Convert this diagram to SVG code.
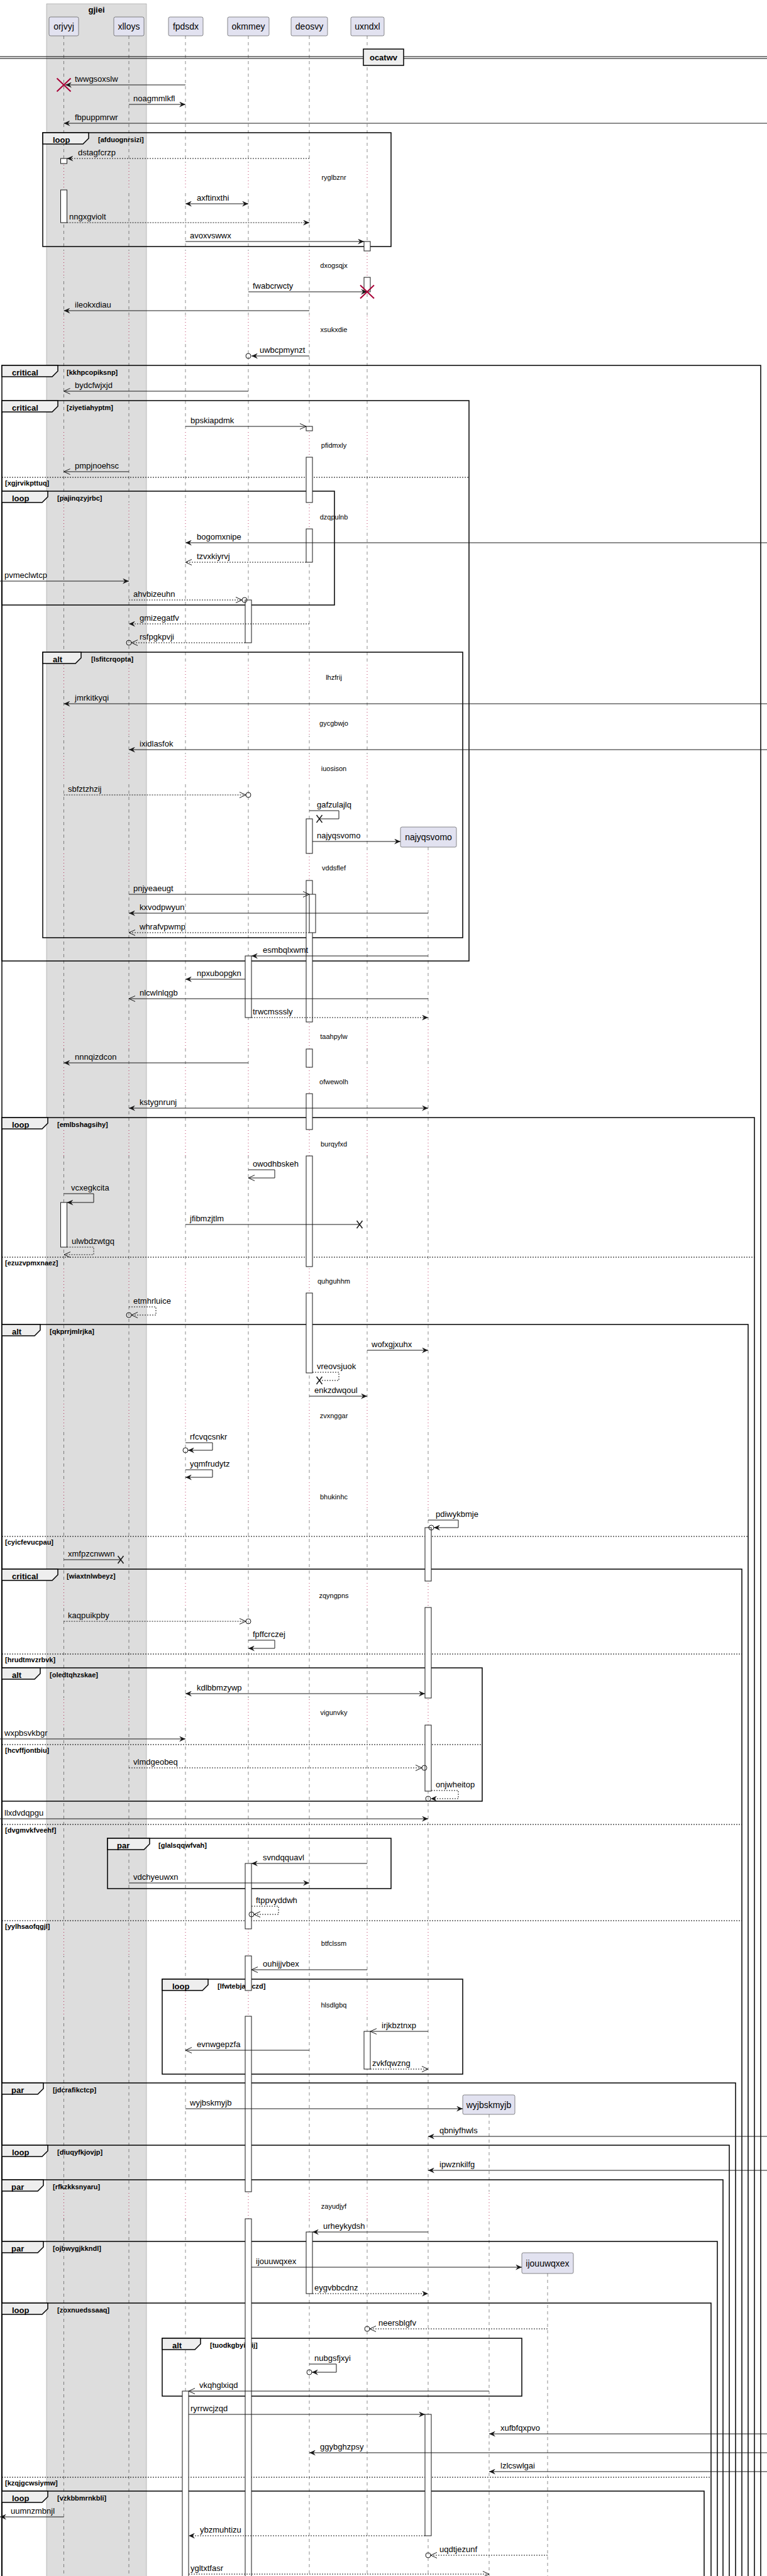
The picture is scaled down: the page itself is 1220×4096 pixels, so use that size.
<svg xmlns="http://www.w3.org/2000/svg" width="1220" height="4096" viewBox="0 0 1220 4096">
<style>
text{font-family:"Liberation Sans",Arial,sans-serif;fill:#000}
.t{font-size:13px}
.dt{font-size:11px;text-anchor:middle}
.pt{font-size:14px;text-anchor:middle}
.fl{font-weight:bold;font-size:13px}
.fc{font-weight:bold;font-size:11px}
.m{stroke:#181818;stroke-width:1;fill:none}
.md{stroke:#181818;stroke-width:1;fill:none;stroke-dasharray:2,2}
.fr{fill:none;stroke:#000;stroke-width:1.5}
.tab{fill:#EEEEEE;stroke:#000;stroke-width:1.5}
.el{stroke:#000;stroke-width:1;stroke-dasharray:2,2}
.act{fill:#fff;stroke:#181818;stroke-width:1}
.pb{fill:#E2E2F0;stroke:#181818;stroke-width:0.5}
.ll{stroke:#181818;stroke-width:0.5;stroke-dasharray:5,5}
.dl{stroke:#A80036;stroke-width:0.8;stroke-dasharray:1,4}
.cr{fill:none;stroke:#181818;stroke-width:1}
.lx{stroke:#181818;stroke-width:1.5}
.dx{stroke:#A80036;stroke-width:2}
</style>
<defs>
<marker id="f" viewBox="0 0 10 9" refX="10" refY="4.5" markerWidth="10" markerHeight="9" markerUnits="userSpaceOnUse" orient="auto-start-reverse"><path d="M0,0 L10,4.5 L0,9 L3.5,4.5 Z" fill="#181818"/></marker>
<marker id="o" viewBox="-1 -1 12 11" refX="10" refY="4.5" markerWidth="12" markerHeight="11" markerUnits="userSpaceOnUse" orient="auto-start-reverse"><path d="M0,0 L10,4.5 L0,9" fill="none" stroke="#181818" stroke-width="1"/></marker>
<mask id="nd" maskUnits="userSpaceOnUse" x="0" y="0" width="1220" height="4096">
<rect x="0" y="0" width="1220" height="4096" fill="#fff"/>
<g fill="#000">
<rect x="0" y="259" width="1220" height="43"/><rect x="0" y="399" width="1220" height="42"/><rect x="0" y="501" width="1220" height="43"/><rect x="0" y="685" width="1220" height="42"/><rect x="0" y="799" width="1220" height="42"/><rect x="0" y="1054" width="1220" height="43"/><rect x="0" y="1127" width="1220" height="43"/><rect x="0" y="1199" width="1220" height="43"/><rect x="0" y="1357" width="1220" height="43"/><rect x="0" y="1625" width="1220" height="43"/><rect x="0" y="1697" width="1220" height="42"/><rect x="0" y="1796" width="1220" height="42"/><rect x="0" y="2014" width="1220" height="42"/><rect x="0" y="2228" width="1220" height="43"/><rect x="0" y="2357" width="1220" height="43"/><rect x="0" y="2514" width="1220" height="42"/><rect x="0" y="2700" width="1220" height="43"/><rect x="0" y="3067" width="1220" height="43"/><rect x="0" y="3165" width="1220" height="41"/><rect x="0" y="3485" width="1220" height="43"/>
</g>
</mask>
<clipPath id="dd">
<rect x="0" y="259" width="1220" height="43"/><rect x="0" y="399" width="1220" height="42"/><rect x="0" y="501" width="1220" height="43"/><rect x="0" y="685" width="1220" height="42"/><rect x="0" y="799" width="1220" height="42"/><rect x="0" y="1054" width="1220" height="43"/><rect x="0" y="1127" width="1220" height="43"/><rect x="0" y="1199" width="1220" height="43"/><rect x="0" y="1357" width="1220" height="43"/><rect x="0" y="1625" width="1220" height="43"/><rect x="0" y="1697" width="1220" height="42"/><rect x="0" y="1796" width="1220" height="42"/><rect x="0" y="2014" width="1220" height="42"/><rect x="0" y="2228" width="1220" height="43"/><rect x="0" y="2357" width="1220" height="43"/><rect x="0" y="2514" width="1220" height="42"/><rect x="0" y="2700" width="1220" height="43"/><rect x="0" y="3067" width="1220" height="43"/><rect x="0" y="3165" width="1220" height="41"/><rect x="0" y="3485" width="1220" height="43"/>
</clipPath>
</defs>

<g id="box-gjiei">
<rect x="74" y="6" width="159" height="4100" fill="#DDDDDD" stroke="#888" stroke-width="0.5"/>
<text x="153.5" y="20" class="fl" text-anchor="middle">gjiei</text>
</g>

<g id="lifelines" class="ll" mask="url(#nd)">
<line x1="101.5" y1="57" x2="101.5" y2="4096"/><line x1="205" y1="57" x2="205" y2="4096"/><line x1="295" y1="57" x2="295" y2="4096"/><line x1="395" y1="57" x2="395" y2="4096"/><line x1="492" y1="57" x2="492" y2="4096"/><line x1="584" y1="57" x2="584" y2="4096"/><line x1="681" y1="1347" x2="681" y2="4096"/><line x1="778" y1="3362" x2="778" y2="4096"/><line x1="871" y1="3615" x2="871" y2="4096"/>
</g>
<g id="lifelines-delay" class="dl" clip-path="url(#dd)">
<line x1="101.5" y1="57" x2="101.5" y2="4096"/><line x1="205" y1="57" x2="205" y2="4096"/><line x1="295" y1="57" x2="295" y2="4096"/><line x1="395" y1="57" x2="395" y2="4096"/><line x1="492" y1="57" x2="492" y2="4096"/><line x1="584" y1="57" x2="584" y2="4096"/><line x1="681" y1="1347" x2="681" y2="4096"/><line x1="778" y1="3362" x2="778" y2="4096"/><line x1="871" y1="3615" x2="871" y2="4096"/>
</g>

<g id="divider-ocatwv">
<line x1="0" y1="90" x2="1220" y2="90" stroke="#000" stroke-width="1"/>
<line x1="0" y1="93" x2="1220" y2="93" stroke="#000" stroke-width="1"/>
<rect x="578" y="78" width="64" height="26" fill="#EEEEEE" stroke="#000" stroke-width="1.5"/>
<text x="610" y="96" class="fl" text-anchor="middle">ocatwv</text>
</g>

<g id="frames">
<g id="f-loop-afduognrsizi"><rect class="fr" x="68" y="211" width="554" height="181"/><path class="tab" d="M68,211 H141 V220 L132,229 H68 Z"/><text class="fl" x="84" y="227">loop</text><text class="fc" x="156" y="226">[afduognrsizi]</text></g>
<g id="f-critical-kkhpcopiksnp"><rect class="fr" x="3" y="581" width="1207" height="3560"/><path class="tab" d="M3,581 H92 V590 L83,599 H3 Z"/><text class="fl" x="19" y="597">critical</text><text class="fc" x="106" y="596">[kkhpcopiksnp]</text></g>
<g id="f-critical-ziyetiahyptm"><rect class="fr" x="3" y="637" width="743" height="891"/><path class="tab" d="M3,637 H92 V646 L83,655 H3 Z"/><text class="fl" x="19" y="653">critical</text><text class="fc" x="106" y="652">[ziyetiahyptm]</text><line class="el" x1="3" y1="759" x2="746" y2="759"/><text class="fc" x="8" y="772">[xgjrvikpttuq]</text></g>
<g id="f-loop-pajinqzyjrbc"><rect class="fr" x="3" y="781" width="529" height="181"/><path class="tab" d="M3,781 H76 V790 L67,799 H3 Z"/><text class="fl" x="19" y="797">loop</text><text class="fc" x="91" y="796">[pajinqzyjrbc]</text></g>
<g id="f-alt-lsfitcrqopta"><rect class="fr" x="68" y="1037" width="668" height="454"/><path class="tab" d="M68,1037 H129 V1046 L120,1055 H68 Z"/><text class="fl" x="84" y="1053">alt</text><text class="fc" x="145" y="1052">[lsfitcrqopta]</text></g>
<g id="f-loop-emlbshagsihy"><rect class="fr" x="3" y="1777" width="1197" height="2400"/><path class="tab" d="M3,1777 H76 V1786 L67,1795 H3 Z"/><text class="fl" x="19" y="1793">loop</text><text class="fc" x="91" y="1792">[emlbshagsihy]</text><line class="el" x1="3" y1="1999" x2="1200" y2="1999"/><text class="fc" x="8" y="2012">[ezuzvpmxnaez]</text></g>
<g id="f-alt-qkprrjmlrjka"><rect class="fr" x="3" y="2106" width="1187" height="2100"/><path class="tab" d="M3,2106 H64 V2115 L55,2124 H3 Z"/><text class="fl" x="19" y="2122">alt</text><text class="fc" x="79" y="2121">[qkprrjmlrjka]</text><line class="el" x1="3" y1="2443" x2="1190" y2="2443"/><text class="fc" x="8" y="2456">[cyicfevucpau]</text></g>
<g id="f-critical-wiaxtnlwbeyz"><rect class="fr" x="3" y="2495" width="1177" height="1700"/><path class="tab" d="M3,2495 H92 V2504 L83,2513 H3 Z"/><text class="fl" x="19" y="2511">critical</text><text class="fc" x="106" y="2510">[wiaxtnlwbeyz]</text><line class="el" x1="3" y1="2630" x2="1180" y2="2630"/><text class="fc" x="8" y="2643">[hrudtmvzrbvk]</text><line class="el" x1="3" y1="2901" x2="1180" y2="2901"/><text class="fc" x="8" y="2914">[dvgmvkfveehf]</text><line class="el" x1="3" y1="3054" x2="1180" y2="3054"/><text class="fc" x="8" y="3067">[yylhsaofqgjl]</text></g>
<g id="f-alt-oledtqhzskae"><rect class="fr" x="3" y="2652" width="764" height="212"/><path class="tab" d="M3,2652 H64 V2661 L55,2670 H3 Z"/><text class="fl" x="19" y="2668">alt</text><text class="fc" x="79" y="2667">[oledtqhzskae]</text><line class="el" x1="3" y1="2774" x2="767" y2="2774"/><text class="fc" x="8" y="2787">[hcvffjontbiu]</text></g>
<g id="f-par-glalsqqwfvah"><rect class="fr" x="171" y="2923" width="451" height="80"/><path class="tab" d="M171,2923 H238 V2932 L229,2941 H171 Z"/><text class="fl" x="186" y="2939">par</text><text class="fc" x="252" y="2938">[glalsqqwfvah]</text></g>
<g id="f-loop-lfwtebjamczd"><rect class="fr" x="258" y="3147" width="478" height="151"/><path class="tab" d="M258,3147 H331 V3156 L322,3165 H258 Z"/><text class="fl" x="274" y="3163">loop</text><text class="fc" x="346" y="3162">[lfwtebjamczd]</text></g>
<g id="f-par-jdcrafikctcp"><rect class="fr" x="3" y="3312" width="1167" height="900"/><path class="tab" d="M3,3312 H69 V3321 L60,3330 H3 Z"/><text class="fl" x="18" y="3328">par</text><text class="fc" x="84" y="3327">[jdcrafikctcp]</text></g>
<g id="f-loop-diuqyfkjovjp"><rect class="fr" x="3" y="3411" width="1157" height="800"/><path class="tab" d="M3,3411 H76 V3420 L67,3429 H3 Z"/><text class="fl" x="19" y="3427">loop</text><text class="fc" x="91" y="3426">[diuqyfkjovjp]</text></g>
<g id="f-par-rfkzkksnyaru"><rect class="fr" x="3" y="3466" width="1147" height="700"/><path class="tab" d="M3,3466 H69 V3475 L60,3484 H3 Z"/><text class="fl" x="18" y="3482">par</text><text class="fc" x="84" y="3481">[rfkzkksnyaru]</text></g>
<g id="f-par-ojbwygjkkndl"><rect class="fr" x="3" y="3564" width="1138" height="600"/><path class="tab" d="M3,3564 H69 V3573 L60,3582 H3 Z"/><text class="fl" x="18" y="3580">par</text><text class="fc" x="84" y="3579">[ojbwygjkkndl]</text></g>
<g id="f-loop-zoxnuedssaaq"><rect class="fr" x="3" y="3662" width="1128" height="500"/><path class="tab" d="M3,3662 H76 V3671 L67,3680 H3 Z"/><text class="fl" x="19" y="3678">loop</text><text class="fc" x="91" y="3677">[zoxnuedssaaq]</text><line class="el" x1="3" y1="3939" x2="1131" y2="3939"/><text class="fc" x="8" y="3952">[kzqjgcwsiymw]</text></g>
<g id="f-alt-tuodkgbyimij"><rect class="fr" x="258" y="3718" width="572" height="92"/><path class="tab" d="M258,3718 H319 V3727 L310,3736 H258 Z"/><text class="fl" x="274" y="3734">alt</text><text class="fc" x="334" y="3733">[tuodkgbyimij]</text></g>
<g id="f-loop-vzkbbmrnkbli"><rect class="fr" x="3" y="3961" width="1117" height="300"/><path class="tab" d="M3,3961 H76 V3970 L67,3979 H3 Z"/><text class="fl" x="19" y="3977">loop</text><text class="fc" x="91" y="3976">[vzkbbmrnkbli]</text></g>
</g>

<g id="p-orjvyj"><rect class="pb" x="78" y="27" width="47" height="30" rx="2.5"/><text class="pt" x="101.5" y="47">orjvyj</text></g>
<g id="p-xlloys"><rect class="pb" x="181" y="27" width="48" height="30" rx="2.5"/><text class="pt" x="205" y="47">xlloys</text></g>
<g id="p-fpdsdx"><rect class="pb" x="268" y="27" width="55" height="30" rx="2.5"/><text class="pt" x="295.5" y="47">fpdsdx</text></g>
<g id="p-okmmey"><rect class="pb" x="362" y="27" width="66" height="30" rx="2.5"/><text class="pt" x="395" y="47">okmmey</text></g>
<g id="p-deosvy"><rect class="pb" x="463" y="27" width="58" height="30" rx="2.5"/><text class="pt" x="492" y="47">deosvy</text></g>
<g id="p-uxndxl"><rect class="pb" x="558" y="27" width="53" height="30" rx="2.5"/><text class="pt" x="584.5" y="47">uxndxl</text></g>
<g id="p-najyqsvomo"><rect class="pb" x="637" y="1315" width="89" height="32" rx="2.5"/><text class="pt" x="681.5" y="1336">najyqsvomo</text></g>
<g id="p-wyjbskmyjb"><rect class="pb" x="736" y="3331" width="83" height="31" rx="2.5"/><text class="pt" x="777.5" y="3352">wyjbskmyjb</text></g>
<g id="p-ijouuwqxex"><rect class="pb" x="830" y="3582" width="82" height="33" rx="2.5"/><text class="pt" x="871" y="3604">ijouuwqxex</text></g>

<g id="activations">
<rect class="act" x="96.5" y="252" width="10" height="8"/><rect class="act" x="96.5" y="302" width="10" height="52"/><rect class="act" x="96.5" y="1912" width="10" height="71"/>
<rect class="act" x="579" y="384" width="10" height="15"/><rect class="act" x="579" y="441" width="10" height="23"/><rect class="act" x="579" y="3230" width="10" height="60"/>
<rect class="act" x="487" y="678" width="10" height="7"/><rect class="act" x="487" y="727" width="10" height="72"/><rect class="act" x="487" y="841" width="10" height="53"/>
<rect class="act" x="487" y="1302" width="10" height="55"/><rect class="act" x="487" y="1400" width="10" height="225"/><rect class="act" x="492" y="1422" width="10" height="61"/>
<rect class="act" x="487" y="1668" width="10" height="29"/><rect class="act" x="487" y="1739" width="10" height="57"/><rect class="act" x="487" y="1838" width="10" height="176"/><rect class="act" x="487" y="2056" width="10" height="127"/>
<rect class="act" x="487" y="3549" width="10" height="98"/>
<rect class="act" x="390" y="954" width="10" height="68"/><rect class="act" x="390" y="1520" width="10" height="98"/><rect class="act" x="390" y="2963" width="10" height="104"/><rect class="act" x="390" y="3110" width="10" height="55"/><rect class="act" x="390" y="3206" width="10" height="279"/><rect class="act" x="390" y="3528" width="10" height="580"/>
<rect class="act" x="676" y="2429" width="10" height="85"/><rect class="act" x="676" y="2556" width="10" height="144"/><rect class="act" x="676" y="2743" width="10" height="105"/><rect class="act" x="676" y="3839" width="10" height="193"/>
<rect class="act" x="290" y="3802" width="10" height="300"/>
</g>

<g id="delays">
<text class="dt" x="531" y="286">ryglbznr</text>
<text class="dt" x="531" y="426">dxogsqjx</text>
<text class="dt" x="531" y="528">xsukxdie</text>
<text class="dt" x="531" y="712">pfidmxly</text>
<text class="dt" x="531" y="826">dzqpulnb</text>
<text class="dt" x="531" y="1081">lhzfrij</text>
<text class="dt" x="531" y="1154">gycgbwjo</text>
<text class="dt" x="531" y="1226">iuosison</text>
<text class="dt" x="531" y="1384">vddsflef</text>
<text class="dt" x="531" y="1652">taahpylw</text>
<text class="dt" x="531" y="1724">ofwewolh</text>
<text class="dt" x="531" y="1823">burqyfxd</text>
<text class="dt" x="531" y="2041">quhguhhm</text>
<text class="dt" x="531" y="2255">zvxnggar</text>
<text class="dt" x="531" y="2384">bhukinhc</text>
<text class="dt" x="531" y="2541">zqyngpns</text>
<text class="dt" x="531" y="2727">vigunvky</text>
<text class="dt" x="531" y="3094">btfclssm</text>
<text class="dt" x="531" y="3192">hlsdlgbq</text>
<text class="dt" x="531" y="3512">zayudjyf</text>
</g>

<g id="connectors">
<line class="m" x1="295" y1="135" x2="104" y2="135" marker-end="url(#f)"/><path class="dx" d="M90.5,124.5 L112.5,145.5 M112.5,124.5 L90.5,145.5"/><text class="t" x="119" y="130">twwgsoxslw</text>
<line class="m" x1="205" y1="166" x2="295" y2="166" marker-end="url(#f)"/><text class="t" x="212" y="161">noagmmlkfl</text>
<line class="m" x1="1220" y1="196" x2="101.5" y2="196" marker-end="url(#f)"/><text class="t" x="119" y="191">fbpuppmrwr</text>
<line class="md" x1="492" y1="252" x2="106.5" y2="252" marker-end="url(#f)"/><text class="t" x="124" y="247">dstagfcrzp</text>
<line class="m" x1="295" y1="324" x2="395" y2="324" marker-start="url(#f)" marker-end="url(#f)"/><text class="t" x="313" y="319">axftinxthi</text>
<line class="md" x1="106.5" y1="354" x2="492" y2="354" marker-end="url(#f)"/><text class="t" x="110" y="349">nngxgviolt</text>
<line class="m" x1="295" y1="384" x2="579" y2="384" marker-end="url(#f)"/><text class="t" x="302" y="379">avoxvswwx</text>
<line class="m" x1="395" y1="464" x2="584" y2="464" marker-end="url(#f)"/><path class="dx" d="M573,453.5 L595,474.5 M595,453.5 L573,474.5"/><text class="t" x="402" y="459">fwabcrwcty</text>
<line class="m" x1="492" y1="494" x2="101.5" y2="494" marker-end="url(#f)"/><text class="t" x="119" y="489">ileokxdiau</text>
<line class="m" x1="492" y1="566" x2="400" y2="566" marker-end="url(#f)"/><circle class="cr" cx="395" cy="566" r="4"/><text class="t" x="413" y="561">uwbcpmynzt</text>
<line class="m" x1="395" y1="622" x2="101.5" y2="622" marker-end="url(#o)"/><text class="t" x="119" y="617">bydcfwjxjd</text>
<line class="m" x1="295" y1="678" x2="487" y2="678" marker-end="url(#o)"/><text class="t" x="303" y="673">bpskiapdmk</text>
<line class="m" x1="205" y1="750" x2="101.5" y2="750" marker-end="url(#o)"/><text class="t" x="119" y="745">pmpjnoehsc</text>
<line class="m" x1="1220" y1="863" x2="295" y2="863" marker-end="url(#f)"/><text class="t" x="313" y="858">bogomxnipe</text>
<line class="md" x1="487" y1="894" x2="295" y2="894" marker-end="url(#o)"/><text class="t" x="313" y="889">tzvxkiyrvj</text>
<line class="m" x1="0" y1="924" x2="205" y2="924" marker-end="url(#f)"/><text class="t" x="7" y="919">pvmeclwtcp</text>
<line class="md" x1="205" y1="954" x2="385" y2="954" marker-end="url(#o)"/><circle class="cr" cx="389" cy="954" r="4"/><text class="t" x="212" y="949">ahvbizeuhn</text>
<line class="md" x1="492" y1="992" x2="205" y2="992" marker-end="url(#f)"/><text class="t" x="222" y="987">gmizegatfv</text>
<line class="md" x1="390" y1="1022" x2="209" y2="1022" marker-end="url(#o)"/><circle class="cr" cx="205" cy="1022" r="4"/><text class="t" x="222" y="1017">rsfpgkpvji</text>
<line class="m" x1="1220" y1="1119" x2="101.5" y2="1119" marker-end="url(#f)"/><text class="t" x="119" y="1114">jmrkitkyqi</text>
<line class="m" x1="1220" y1="1192" x2="205" y2="1192" marker-end="url(#f)"/><text class="t" x="222" y="1187">ixidlasfok</text>
<line class="md" x1="101.5" y1="1264" x2="391" y2="1264" marker-end="url(#o)"/><circle class="cr" cx="395" cy="1264" r="4"/><text class="t" x="108" y="1259">sbfztzhzij</text>
<path class="m" d="M492,1289 H539 V1302 H508"/><path class="lx" d="M503.5,1296 L512.5,1308 M512.5,1296 L503.5,1308"/><text class="t" x="504" y="1284">gafzulajlq</text>
<line class="m" x1="497" y1="1338" x2="637" y2="1338" marker-end="url(#f)"/><text class="t" x="504" y="1333">najyqsvomo</text>
<line class="m" x1="205" y1="1422" x2="492" y2="1422" marker-end="url(#o)"/><text class="t" x="212" y="1417">pnjyeaeugt</text>
<line class="m" x1="681" y1="1452" x2="205" y2="1452" marker-end="url(#f)"/><text class="t" x="222" y="1447">kxvodpwyun</text>
<line class="md" x1="492" y1="1483" x2="205" y2="1483" marker-end="url(#o)"/><text class="t" x="222" y="1478">whrafvpwmp</text>
<line class="m" x1="681" y1="1520" x2="400" y2="1520" marker-end="url(#f)"/><text class="t" x="418" y="1515">esmbqlxwmt</text>
<line class="m" x1="390" y1="1557" x2="295" y2="1557" marker-end="url(#f)"/><text class="t" x="313" y="1552">npxubopgkn</text>
<line class="m" x1="681" y1="1588" x2="205" y2="1588" marker-end="url(#o)"/><text class="t" x="222" y="1583">nlcwlnlqgb</text>
<line class="md" x1="400" y1="1618" x2="681" y2="1618" marker-end="url(#f)"/><text class="t" x="402" y="1613">trwcmsssly</text>
<line class="m" x1="395" y1="1690" x2="101.5" y2="1690" marker-end="url(#f)"/><text class="t" x="119" y="1685">nnnqizdcon</text>
<line class="m" x1="205" y1="1762" x2="681" y2="1762" marker-start="url(#f)" marker-end="url(#f)"/><text class="t" x="222" y="1757">kstygnrunj</text>
<path class="m" d="M395,1860 H437 V1873 H395" marker-end="url(#o)"/><text class="t" x="402" y="1855">owodhbskeh</text>
<path class="m" d="M101.5,1898 H149 V1912 H106.5" marker-end="url(#f)"/><text class="t" x="113" y="1893">vcxegkcita</text>
<line class="m" x1="295" y1="1947" x2="572" y2="1947"/><path class="lx" d="M567.5,1941 L576.5,1953 M576.5,1941 L567.5,1953"/><text class="t" x="302" y="1942">jfibmzjtlm</text>
<path class="md" d="M106.5,1983 H149 V1995 H102" marker-end="url(#o)"/><text class="t" x="114" y="1978">ulwbdzwtgq</text>
<path class="md" d="M205,2078 H248 V2091 H209" marker-end="url(#o)"/><circle class="cr" cx="205" cy="2091" r="4"/><text class="t" x="212" y="2073">etmhrluice</text>
<line class="m" x1="584" y1="2147" x2="681" y2="2147" marker-end="url(#f)"/><text class="t" x="591" y="2142">wofxgjxuhx</text>
<path class="md" d="M497,2182 H539 V2195 H508"/><path class="lx" d="M503.5,2189 L512.5,2201 M512.5,2189 L503.5,2201"/><text class="t" x="504" y="2177">vreovsjuok</text>
<line class="m" x1="492" y1="2220" x2="584" y2="2220" marker-end="url(#f)"/><text class="t" x="500" y="2215">enkzdwqoul</text>
<path class="m" d="M295,2294 H338 V2306 H299" marker-end="url(#f)"/><circle class="cr" cx="295" cy="2306" r="4"/><text class="t" x="302" y="2289">rfcvqcsnkr</text>
<path class="m" d="M295,2337 H338 V2349 H295" marker-end="url(#f)"/><text class="t" x="302" y="2332">yqmfrudytz</text>
<path class="m" d="M681,2417 H729 V2429 H690" marker-end="url(#f)"/><circle class="cr" cx="686" cy="2429" r="4"/><text class="t" x="693" y="2412">pdiwykbmje</text>
<line class="m" x1="101.5" y1="2480" x2="192" y2="2480"/><path class="lx" d="M187.5,2474 L196.5,2486 M196.5,2474 L187.5,2486"/><text class="t" x="108" y="2475">xmfpzcnwwn</text>
<line class="md" x1="101.5" y1="2578" x2="391" y2="2578" marker-end="url(#o)"/><circle class="cr" cx="395" cy="2578" r="4"/><text class="t" x="108" y="2573">kaqpuikpby</text>
<path class="m" d="M395,2608 H437 V2621 H395" marker-end="url(#f)"/><text class="t" x="402" y="2603">fpffcrczej</text>
<line class="m" x1="295" y1="2693" x2="676" y2="2693" marker-start="url(#f)" marker-end="url(#f)"/><text class="t" x="313" y="2688">kdlbbmzywp</text>
<line class="m" x1="0" y1="2765" x2="295" y2="2765" marker-end="url(#f)"/><text class="t" x="7" y="2760">wxpbsvkbgr</text>
<line class="md" x1="205" y1="2811" x2="671" y2="2811" marker-end="url(#o)"/><circle class="cr" cx="675" cy="2811" r="4"/><text class="t" x="212" y="2806">vlmdgeobeq</text>
<path class="md" d="M686,2847 H729 V2860 H685" marker-end="url(#f)"/><circle class="cr" cx="681" cy="2860" r="4"/><text class="t" x="693" y="2842">onjwheitop</text>
<line class="m" x1="0" y1="2892" x2="681" y2="2892" marker-end="url(#f)"/><text class="t" x="7" y="2887">llxdvdqpgu</text>
<line class="m" x1="584" y1="2963" x2="400" y2="2963" marker-end="url(#f)"/><text class="t" x="418" y="2958">svndqquavl</text>
<line class="m" x1="205" y1="2994" x2="492" y2="2994" marker-end="url(#f)"/><text class="t" x="212" y="2989">vdchyeuwxn</text>
<path class="md" d="M400,3031 H443 V3044 H404" marker-end="url(#o)"/><circle class="cr" cx="400" cy="3044" r="4"/><text class="t" x="407" y="3026">ftppvyddwh</text>
<line class="m" x1="584" y1="3132" x2="400" y2="3132" marker-end="url(#o)"/><text class="t" x="418" y="3127">ouhijjvbex</text>
<line class="m" x1="681" y1="3230" x2="589" y2="3230" marker-end="url(#o)"/><text class="t" x="607" y="3225">irjkbztnxp</text>
<line class="m" x1="492" y1="3260" x2="295" y2="3260" marker-end="url(#o)"/><text class="t" x="313" y="3255">evnwgepzfa</text>
<line class="md" x1="589" y1="3290" x2="681" y2="3290" marker-end="url(#o)"/><text class="t" x="592" y="3285">zvkfqwzng</text>
<line class="m" x1="295" y1="3353" x2="736" y2="3353" marker-end="url(#f)"/><text class="t" x="302" y="3348">wyjbskmyjb</text>
<line class="m" x1="1220" y1="3397" x2="681" y2="3397" marker-end="url(#f)"/><text class="t" x="699" y="3392">qbniyfhwls</text>
<line class="m" x1="1220" y1="3451" x2="681" y2="3451" marker-end="url(#f)"/><text class="t" x="699" y="3446">ipwznkilfg</text>
<line class="m" x1="681" y1="3549" x2="497" y2="3549" marker-end="url(#f)"/><text class="t" x="514" y="3544">urheykydsh</text>
<line class="m" x1="400" y1="3605" x2="830" y2="3605" marker-end="url(#f)"/><text class="t" x="407" y="3600">ijouuwqxex</text>
<line class="md" x1="497" y1="3647" x2="681" y2="3647" marker-end="url(#f)"/><text class="t" x="500" y="3642">eygvbbcdnz</text>
<line class="md" x1="871" y1="3703" x2="588" y2="3703" marker-end="url(#o)"/><circle class="cr" cx="584" cy="3703" r="4"/><text class="t" x="602" y="3698">neersblgfv</text>
<path class="m" d="M492,3759 H535 V3772 H496" marker-end="url(#f)"/><circle class="cr" cx="492" cy="3772" r="4"/><text class="t" x="500" y="3754">nubgsfjxyi</text>
<line class="m" x1="778" y1="3802" x2="300" y2="3802" marker-end="url(#o)"/><text class="t" x="317" y="3797">vkqhglxiqd</text>
<line class="m" x1="300" y1="3839" x2="676" y2="3839" marker-end="url(#f)"/><text class="t" x="303" y="3834">ryrrwcjzqd</text>
<line class="m" x1="1220" y1="3870" x2="778" y2="3870" marker-end="url(#f)"/><text class="t" x="796" y="3865">xufbfqxpvo</text>
<line class="m" x1="1220" y1="3900" x2="492" y2="3900" marker-end="url(#f)"/><text class="t" x="509" y="3895">ggybghzpsy</text>
<line class="m" x1="1220" y1="3930" x2="778" y2="3930" marker-end="url(#f)"/><text class="t" x="796" y="3925">lzlcswlgai</text>
<line class="m" x1="101.5" y1="4002" x2="0" y2="4002" marker-end="url(#f)"/><text class="t" x="17" y="3997">uumnzmbnjl</text>
<line class="md" x1="676" y1="4032" x2="300" y2="4032" marker-end="url(#f)"/><text class="t" x="318" y="4027">ybzmuhtizu</text>
<line class="md" x1="871" y1="4063" x2="685" y2="4063" marker-end="url(#o)"/><circle class="cr" cx="681" cy="4063" r="4"/><text class="t" x="699" y="4058">uqdtjezunf</text>
<line class="md" x1="300" y1="4093" x2="778" y2="4093" marker-end="url(#o)"/><text class="t" x="303" y="4088">ygltxtfasr</text>
</g>
</svg>
